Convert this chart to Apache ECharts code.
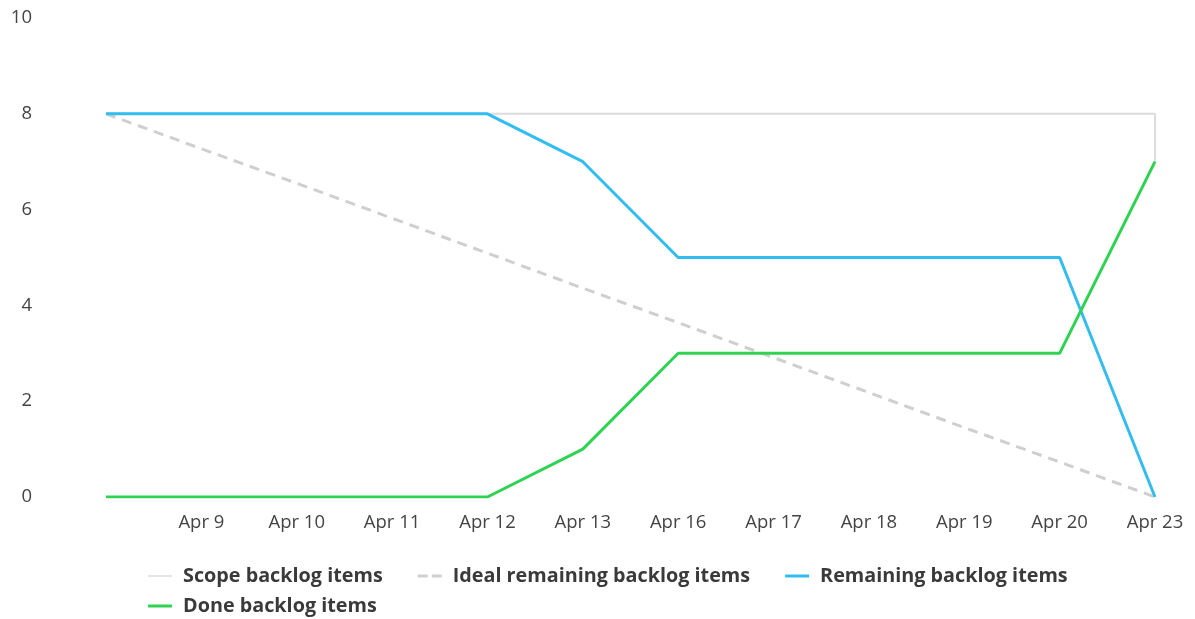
<!DOCTYPE html>
<html>
<head>
<meta charset="utf-8">
<script src="https://cdn.jsdelivr.net/npm/echarts@6/dist/echarts.min.js"></script>
<style>
  html, body { margin: 0; padding: 0; background: #fff; }
  #chart { width: 1195px; height: 619px; }
</style>
</head>
<body>
<div id="chart"></div>
<script>
// Sprint burndown data
const days = ['Apr 8', 'Apr 9', 'Apr 10', 'Apr 11', 'Apr 12', 'Apr 13', 'Apr 16', 'Apr 17', 'Apr 18', 'Apr 19', 'Apr 20', 'Apr 23'];
const scopeItems = [8, 8, 8, 8, 8, 8, 8, 8, 8, 8, 8, 7];
const idealRemaining = [8, 7.27, 6.55, 5.82, 5.09, 4.36, 3.64, 2.91, 2.18, 1.45, 0.73, 0];
const remainingItems = [8, 8, 8, 8, 8, 7, 5, 5, 5, 5, 5, 0];
const doneItems = [0, 0, 0, 0, 0, 1, 3, 3, 3, 3, 3, 7];
const yTicks = [0, 2, 4, 6, 8, 10];

const FONT = '"Open Sans", "Noto Sans", sans-serif';
const COLORS = { scope: '#dcdcdc', ideal: '#cfcfcf', remaining: '#33bcf0', done: '#2ed352' };

// legend glyphs: plain strokes, two dashes for the ideal line
const SOLID_THIN = 'path://M0,0 L24,0 L24,1.5 L0,1.5 Z';
const SOLID = 'path://M0,0 L24,0 L24,3 L0,3 Z';
const DASHED = 'path://M0,0 L10,0 L10,3 L0,3 Z M14,0 L24,0 L24,3 L14,3 Z';

const legendBase = {
  left: 148,
  padding: 0,
  itemWidth: 24,
  itemHeight: 3,
  itemGap: 35,
  textStyle: { fontFamily: FONT, fontSize: 19.8, fontWeight: 'bold', color: '#3a3a3a', lineHeight: 30, padding: [0, 0, 0, 6] }
};

const chart = echarts.init(document.getElementById('chart'));

chart.setOption({
  animation: false,
  textStyle: { fontFamily: FONT },
  grid: { left: 106, right: 40, top: 18, bottom: 122, containLabel: false },
  legend: [
    Object.assign({}, legendBase, {
      top: 561,
      data: [
        { name: 'Scope backlog items', icon: SOLID_THIN, itemStyle: { color: COLORS.scope } },
        { name: 'Ideal remaining backlog items', icon: DASHED, itemStyle: { color: COLORS.ideal } },
        { name: 'Remaining backlog items', icon: SOLID, itemStyle: { color: COLORS.remaining } }
      ]
    }),
    Object.assign({}, legendBase, {
      top: 591,
      data: [
        { name: 'Done backlog items', icon: SOLID, itemStyle: { color: COLORS.done } }
      ]
    })
  ],
  xAxis: {
    type: 'category',
    data: days,
    boundaryGap: false,
    axisLine: { show: false },
    axisTick: { show: false },
    splitLine: { show: false },
    axisLabel: {
      color: '#444',
      fontSize: 18.5,
      margin: 16,
      interval: 0,
      formatter: (v, i) => (i === 0 ? '' : v)
    }
  },
  yAxis: {
    type: 'value',
    min: yTicks[0],
    max: yTicks[yTicks.length - 1],
    interval: 2,
    axisLine: { show: false },
    axisTick: { show: false },
    splitLine: { show: false },
    axisLabel: { color: '#444', fontSize: 18.5, margin: 74, align: 'right' }
  },
  series: [
    {
      name: 'Scope backlog items',
      type: 'line',
      step: 'end',
      data: scopeItems,
      symbol: 'none',
      color: COLORS.scope,
      lineStyle: { color: COLORS.scope, width: 2 },
      z: 1
    },
    {
      name: 'Ideal remaining backlog items',
      type: 'line',
      data: idealRemaining,
      symbol: 'none',
      color: COLORS.ideal,
      lineStyle: { color: COLORS.ideal, width: 3, type: [10, 7] },
      z: 2
    },
    {
      name: 'Remaining backlog items',
      type: 'line',
      data: remainingItems,
      symbol: 'none',
      color: COLORS.remaining,
      lineStyle: { color: COLORS.remaining, width: 3 },
      z: 3
    },
    {
      name: 'Done backlog items',
      type: 'line',
      data: doneItems,
      symbol: 'none',
      color: COLORS.done,
      lineStyle: { color: COLORS.done, width: 3 },
      z: 4
    }
  ]
});
</script>
</body>
</html>
